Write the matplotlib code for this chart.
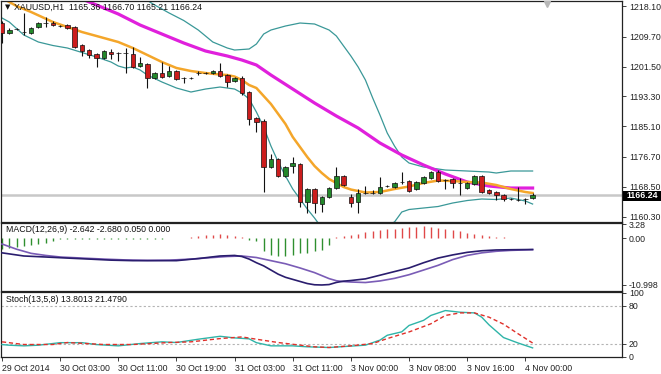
import matplotlib
matplotlib.use("Agg")
import numpy as np
import matplotlib.pyplot as plt
from matplotlib.patches import Rectangle

# XAUUSD H1, bar 0 = 29 Oct 2014 19:00 ... bar 73 = 4 Nov 01:00
opens = [1213.44, 1210.70, 1211.80, 1210.97, 1210.70, 1212.34, 1213.44, 1213.44, 1212.62, 1212.89,
         1212.34, 1207.41, 1206.03, 1204.94, 1203.84, 1205.49, 1205.21, 1205.21, 1204.94, 1201.64,
         1202.19, 1198.35, 1199.72, 1198.90, 1200.27, 1198.35, 1198.35, 1199.65, 1199.72, 1199.72,
         1200.27, 1199.17, 1197.53, 1198.35, 1194.51, 1187.38, 1186.56, 1173.94, 1176.13, 1171.47,
         1174.21, 1174.76, 1164.33, 1167.90, 1163.78, 1165.70, 1168.17, 1171.47, 1165.70, 1164.33,
         1166.80, 1166.80, 1166.80, 1168.72, 1168.45, 1169.82, 1170.09, 1167.90, 1169.55, 1170.92,
         1172.56, 1170.37, 1170.64, 1169.55, 1168.17, 1169.27, 1171.47, 1167.63, 1167.08, 1166.25,
         1165.16, 1164.88, 1165.16, 1165.36]
highs = [1214.00, 1212.00, 1212.20, 1216.18, 1212.40, 1213.80, 1215.09, 1213.90, 1213.00, 1213.20,
         1212.60, 1207.80, 1206.30, 1205.20, 1206.00, 1206.20, 1205.60, 1206.50, 1206.95, 1204.10,
         1202.50, 1200.00, 1202.74, 1201.70, 1200.60, 1198.70, 1198.60, 1200.20, 1200.00, 1200.60,
         1202.47, 1199.50, 1198.60, 1198.90, 1194.80, 1187.60, 1187.00, 1177.50, 1176.40, 1174.20,
         1176.68, 1175.00, 1168.20, 1168.20, 1166.00, 1168.50, 1173.94, 1171.80, 1166.50, 1167.90,
         1168.72, 1167.63, 1171.19, 1169.10, 1169.80, 1172.56, 1170.40, 1170.10, 1171.50, 1172.80,
         1173.20, 1170.70, 1170.90, 1171.00, 1169.90, 1171.80, 1171.80, 1167.90, 1167.40, 1166.50,
         1165.50, 1168.45, 1165.40, 1166.70]
lows = [1207.96, 1210.40, 1211.50, 1210.15, 1210.40, 1212.10, 1212.34, 1212.60, 1212.30, 1211.80,
        1206.60, 1204.40, 1203.84, 1201.37, 1203.60, 1203.70, 1203.02, 1199.72, 1201.10, 1201.40,
        1195.61, 1198.10, 1198.40, 1198.60, 1197.80, 1196.98, 1198.10, 1199.30, 1199.40, 1199.50,
        1198.60, 1195.88, 1197.30, 1193.69, 1185.46, 1183.54, 1167.20, 1173.70, 1171.20, 1171.20,
        1172.29, 1162.96, 1161.32, 1161.32, 1161.67, 1165.40, 1167.90, 1168.70, 1162.96, 1161.32,
        1166.50, 1166.50, 1166.50, 1168.40, 1168.20, 1169.30, 1167.00, 1167.60, 1169.30, 1170.70,
        1169.80, 1167.90, 1168.20, 1166.25, 1167.90, 1169.00, 1166.80, 1166.50, 1164.88, 1164.60,
        1164.90, 1164.60, 1163.78, 1165.21]
closes = [1210.70, 1211.52, 1211.85, 1211.05, 1212.07, 1213.44, 1213.50, 1212.89, 1212.58, 1212.07,
          1206.86, 1205.76, 1204.66, 1203.84, 1205.76, 1204.94, 1205.15, 1205.25, 1201.37, 1202.47,
          1198.35, 1199.72, 1198.63, 1200.27, 1198.08, 1198.30, 1198.40, 1199.75, 1199.70, 1200.27,
          1198.90, 1197.26, 1198.35, 1194.24, 1187.10, 1186.28, 1173.94, 1176.13, 1171.47, 1173.94,
          1175.03, 1164.33, 1167.90, 1164.06, 1165.70, 1168.17, 1171.47, 1169.00, 1164.06, 1166.80,
          1166.85, 1166.75, 1168.45, 1168.78, 1169.55, 1169.85, 1167.35, 1169.82, 1171.19, 1172.56,
          1170.09, 1170.33, 1169.55, 1169.50, 1169.55, 1171.47, 1167.08, 1166.80, 1166.25, 1165.16,
          1165.10, 1164.85, 1165.20, 1166.24]

# overlays (bar index -> price)
ma_fast_idx = [0, 2, 4, 7, 9, 11, 13, 16, 18, 20, 22, 24, 26, 28, 30, 31, 32, 33, 34, 35, 36, 37, 38, 39,
               40, 41, 42, 43, 44, 45, 46, 47, 48, 50, 52, 54, 56, 58, 60, 62, 64, 66, 68, 70, 72, 73]
ma_fast = [1220.3, 1218.1, 1216.46, 1213.72, 1212.34, 1210.97, 1209.88, 1208.23, 1206.58, 1204.66,
           1202.74, 1201.10, 1200.27, 1199.72, 1199.31, 1199.17, 1198.76, 1197.80, 1196.43, 1195.61,
           1193.41, 1191.22, 1188.48, 1185.73, 1182.17, 1179.42, 1176.68, 1174.21, 1172.29, 1170.64,
           1169.55, 1168.45, 1167.76, 1166.94, 1167.08, 1167.90, 1168.59, 1169.55, 1170.23, 1170.09,
           1169.82, 1169.68, 1169.00, 1167.90, 1167.08, 1166.80]
ma_slow_idx = [11, 13, 16, 19, 22, 25, 28, 31, 33, 35, 37, 40, 43, 46, 49, 52, 55, 58, 61, 64, 67, 70, 73]
ma_slow = [1220.03, 1218.38, 1215.91, 1212.89, 1210.42, 1207.96, 1205.76, 1204.39, 1203.29, 1201.92,
           1199.17, 1195.33, 1191.49, 1187.93, 1184.63, 1180.52, 1177.23, 1174.48, 1172.01, 1169.82,
           1168.72, 1168.17, 1168.17]
bb_up_idx = [19, 21, 23, 25, 27, 29, 31, 32, 34, 35, 36, 37, 39, 41, 43, 45, 46, 47, 48, 49, 50, 51,
             52, 53, 54, 55, 56, 58, 61, 64, 67, 68, 70, 73]
bb_up = [1220.85, 1218.38, 1216.18, 1214.13, 1211.52, 1208.23, 1206.58, 1206.03, 1206.31, 1207.68,
         1210.42, 1211.52, 1212.62, 1213.44, 1213.17, 1211.52, 1209.88, 1207.13, 1204.39, 1201.37,
         1197.80, 1192.87, 1188.20, 1183.26, 1179.70, 1176.68, 1175.03, 1173.94, 1173.11, 1172.84,
         1172.56, 1172.29, 1172.84, 1172.84]
bb_dn_idx = [0, 1, 3, 5, 7, 9, 11, 13, 15, 16, 17, 18, 19, 20, 22, 24, 26, 28, 30, 32, 33, 34, 35, 36,
             37, 38, 39, 40, 41, 42, 43, 44, 46, 49, 52, 54, 55, 56, 58, 60, 62, 64, 66, 68, 70, 72, 73]
bb_dn = [1214.81, 1213.72, 1210.15, 1208.23, 1207.27, 1206.58, 1205.35, 1204.11, 1202.74, 1201.64,
         1201.10, 1201.37, 1200.55, 1199.17, 1197.26, 1195.61, 1194.51, 1195.33, 1195.88, 1195.33,
         1194.24, 1192.59, 1189.02, 1184.91, 1179.70, 1175.31, 1171.47, 1167.90, 1165.16, 1162.41,
         1159.94, 1157.20, 1155.00, 1154.50, 1157.00, 1158.85, 1161.59, 1162.28, 1162.69, 1163.10,
         1164.06, 1164.74, 1165.16, 1165.02, 1165.43, 1164.61, 1163.78]

# MACD(12,26,9)
macd_hist = [-2.5, -2.3, -2.1, -1.9, -1.6, -1.3, -1.0, -0.6, -0.25, -0.1,
             -0.25, -0.25, -0.25, -0.25, -0.25, -0.25, -0.25, -0.25, -0.25, -0.25,
             -0.25, -0.25, -0.25, 0.0, 0.0, 0.0, 0.4, 0.6, 0.8, 0.8,
             0.9, 0.8, 0.6, 0.4, -0.3, -0.7, -3.1, -3.9, -4.2, -4.2,
             -3.9, -3.5, -3.5, -3.1, -2.7, -1.6, 0.3, 0.5, 0.8, 1.1,
             1.4, 1.7, 1.9, 2.1, 2.3, 2.5, 2.6, 2.7, 2.8, 2.7,
             2.5, 2.2, 1.9, 1.6, 1.3, 1.0, 0.8, 0.55, 0.35, 0.2,
             0.05, 0.05, 0.05, 0.05]
macd_idx = [0, 3, 6, 9, 12, 15, 18, 21, 24, 27, 30, 32, 33, 34, 35, 36, 37, 38, 39, 40, 41, 42, 43,
            44, 45, 46, 47, 48, 50, 52, 54, 56, 58, 60, 62, 64, 66, 68, 70, 73]
macd_main = [-3.43, -4.17, -4.41, -4.66, -4.90, -5.15, -5.27, -5.27, -5.27, -4.78, -4.17, -4.04,
             -4.29, -4.90, -5.76, -6.50, -7.48, -8.46, -9.19, -9.68, -10.17, -10.66, -10.95, -11.0,
             -10.9, -10.4, -10.1, -9.95, -9.56, -8.70, -7.84, -6.99, -5.76, -4.66, -3.92, -3.31,
             -2.94, -2.75, -2.70, -2.642]
signal_idx = [0, 2, 4, 6, 8, 11, 14, 17, 20, 23, 26, 29, 31, 33, 35, 37, 39, 41, 43, 45, 46, 47, 48,
              50, 52, 54, 56, 58, 60, 62, 64, 66, 68, 70, 73]
macd_signal = [-1.35, -2.57, -3.55, -4.04, -4.41, -4.66, -4.90, -5.10, -5.20, -5.15, -4.90, -4.53,
               -4.29, -4.17, -4.53, -5.27, -6.00, -6.99, -8.09, -9.50, -10.0, -10.2, -10.3, -10.42,
               -10.05, -9.44, -8.58, -7.48, -6.37, -5.02, -4.04, -3.43, -3.06, -2.85, -2.68]

# Stoch(13,5,8)
k_idx = [0, 1, 3, 5, 8, 11, 13, 16, 19, 22, 24, 27, 30, 32, 34, 35, 37, 40, 42, 45, 48, 50, 52, 53,
         55, 56, 58, 59, 61, 63, 65, 66, 67, 69, 71, 73]
stoch_k = [19, 18, 17, 18, 22, 22, 19, 17, 20.6, 23.3, 22.2, 27.4, 32, 29.5, 28, 22, 17, 17, 15.5,
           14.4, 16.6, 18.1, 26, 33.6, 39, 49, 57, 64.7, 72.4, 69.8, 68.7, 62, 50, 30, 21.5, 13.8013]
d_idx = [0, 3, 7, 9, 14, 18, 23, 26, 30, 33, 35, 38, 41, 43, 45, 48, 51, 53, 56, 59, 61, 63, 65, 67,
         69, 71, 73]
stoch_d = [23.3, 19.1, 19.1, 22.2, 19.1, 19.1, 22.2, 23.3, 28.4, 31, 27.4, 22.2, 18.1, 15.5, 14.4,
           17.1, 20.6, 28.4, 38.8, 51.6, 64.7, 68.7, 68.7, 62, 51, 36, 21.479]

xtick_idx = [0, 8, 16, 24, 32, 40, 48, 56, 64, 72]
xtick_labels = ['29 Oct 2014', '30 Oct 03:00', '30 Oct 11:00', '30 Oct 19:00', '31 Oct 03:00',
                '31 Oct 11:00', '3 Nov 00:00', '3 Nov 08:00', '3 Nov 16:00', '4 Nov 00:00']

plt.rcParams['font.family'] = ['Liberation Sans', 'DejaVu Sans']
FS = 6.3
W, H = 661, 374
fig = plt.figure(figsize=(W / 100, H / 100), dpi=100)
fig.patch.set_facecolor('white')


def px_axes(x0, y0, x1, y1):
    return fig.add_axes([x0 / W, 1 - y1 / H, (x1 - x0) / W, (y1 - y0) / H])


ax = px_axes(1, 1, 622, 222)
ax2 = px_axes(1, 223, 622, 290.5)
ax3 = px_axes(1, 292, 622, 357)

for a in (ax, ax2, ax3):
    a.set_xlim(-0.14, 85.3)
    for s in a.spines.values():
        s.set_color('#222222')
        s.set_linewidth(0.9)
    a.yaxis.tick_right()
    a.tick_params(axis='y', length=3, width=0.6, pad=2, labelsize=FS, colors='#222222')
    a.tick_params(axis='x', length=0)
    a.set_xticks([])

# ---- main price panel
ax.set_ylim(1158.85, 1219.48)
ax.set_yticks([1218.10, 1209.70, 1201.50, 1193.30, 1185.10, 1176.70, 1168.50, 1160.30])
ax.set_yticklabels(['1218.10', '1209.70', '1201.50', '1193.30', '1185.10', '1176.70', '1168.50', '1160.30'])

ax.axhline(closes[-1], color='#c8c8c8', lw=1.8, zorder=1)

ax.plot(bb_up_idx, bb_up, color='#3a9898', lw=0.9, zorder=2)
ax.plot(bb_dn_idx, bb_dn, color='#3a9898', lw=0.9, zorder=2)
ax.plot(ma_slow_idx, ma_slow, color='#e020dc', lw=2.3, zorder=2)
ax.plot(ma_fast_idx, ma_fast, color='#f4a62a', lw=1.8, zorder=2)

idx = np.arange(len(opens))
o = np.array(opens)
c = np.array(closes)
up = c >= o
ax.vlines(idx, lows, highs, color='#111111', lw=0.8, zorder=3)
body_bottom = np.minimum(o, c)
body_h = np.maximum(np.abs(c - o), 0.08)
colors = np.where(up, '#22882a', '#cc1d1d')
ax.bar(idx, body_h, bottom=body_bottom, width=0.62, color=colors, edgecolor='#111111',
       linewidth=0.5, zorder=4)

ax.plot([75], [0.985], marker='v', color='#b8b8b8', markersize=5, transform=ax.get_xaxis_transform(),
        clip_on=False, zorder=5)

fig.text(5 / W, 1 - 7.5 / H, '\u25bc', fontsize=5, family='DejaVu Sans', va='center', color='#111111')
fig.text(14 / W, 1 - 7.5 / H, 'XAUUSD,H1  1165.36 1166.70 1165.21 1166.24', fontsize=FS,
         va='center', color='#111111')

fig.patches.append(Rectangle((623 / W, 1 - 201 / H), 38 / W, 10 / H, transform=fig.transFigure,
                             facecolor='black', edgecolor='none', zorder=10))
fig.text(626 / W, 1 - 196 / H, '1166.24', fontsize=FS, color='white', va='center', weight='bold',
         zorder=11)

# ---- MACD panel
ax2.set_ylim(-12.3, 3.6)
ax2.set_yticks([3.28, 0.0, -10.998])
ax2.set_yticklabels(['3.28', '0.00', '-10.998'])
hist = np.array(macd_hist)
ax2.vlines(idx, 0, hist, colors=np.where(hist > 0, '#e04848', '#2f8f2f'), lw=1.0, zorder=2)
ax2.plot(signal_idx, macd_signal, color='#7a5cb6', lw=1.2, zorder=3)
ax2.plot(macd_idx, macd_main, color='#2a1d6e', lw=1.2, zorder=3)
ax2.text(5 / 621, 1 - 7 / 67.5, 'MACD(12,26,9) -2.642 -2.680 0.050 0.000', transform=ax2.transAxes,
         fontsize=FS, va='center', color='#111111')

# ---- Stochastic panel
ax3.set_ylim(-0.5, 101.5)
ax3.set_yticks([100, 80, 20, 0])
ax3.set_yticklabels(['100', '80', '20', '0'])
for lev in (80, 20):
    ax3.axhline(lev, color='#b4b4b4', lw=0.8, ls=(0, (2, 2)), zorder=1)
ax3.plot(k_idx, stoch_k, color='#2fb4a8', lw=1.0, zorder=3)
ax3.plot(d_idx, stoch_d, color='#e0302a', lw=1.0, ls=(0, (3, 2)), zorder=3)
ax3.text(5 / 621, 1 - 8 / 65, 'Stoch(13,5,8) 13.8013 21.4790', transform=ax3.transAxes,
         fontsize=FS, va='center', color='#111111')

ax3.set_xticks(xtick_idx)
ax3.set_xticklabels(xtick_labels, ha='left')
ax3.tick_params(axis='x', length=3, width=0.6, pad=2, labelsize=FS, colors='#222222')

fig.savefig('out.png', dpi=100)
